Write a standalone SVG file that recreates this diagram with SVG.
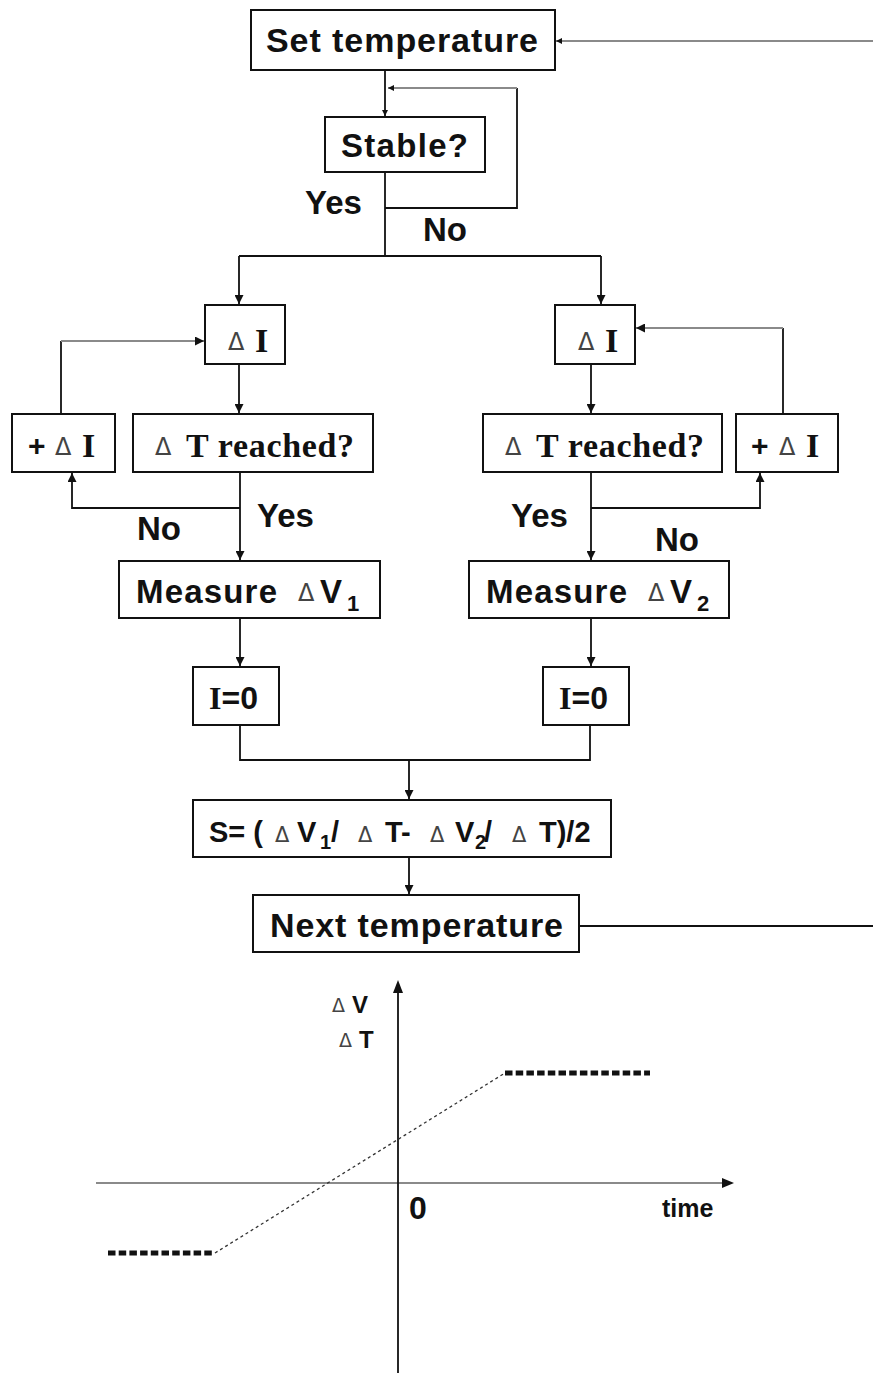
<svg xmlns="http://www.w3.org/2000/svg" width="873" height="1373" viewBox="0 0 873 1373">
<defs>
<style>
.box{fill:#fff;stroke:#111;stroke-width:2}
.c{fill:none;stroke:#111;stroke-width:1.8}
.g{fill:none;stroke:#8a8a8a;stroke-width:2.2}
.a{font-family:"Liberation Sans",Arial,sans-serif;font-weight:bold;fill:#111}
.t{font-family:"Liberation Serif","Times New Roman",serif;font-weight:bold;fill:#111}
.d{font-family:"DejaVu Sans","Liberation Sans",sans-serif;font-weight:normal;fill:#444}
.dot{fill:none;stroke:#111;stroke-width:5}
</style>
<marker id="ah" viewBox="0 0 10 10" refX="10" refY="5" markerWidth="6" markerHeight="6" markerUnits="userSpaceOnUse" orient="auto"><path d="M0,0 L10,5 L0,10 z" fill="#111"/></marker>
<marker id="ahb" viewBox="0 0 10 10" refX="10" refY="5" markerWidth="9" markerHeight="9" markerUnits="userSpaceOnUse" orient="auto"><path d="M0,0 L10,5 L0,10 z" fill="#111"/></marker>
</defs>
<rect width="873" height="1373" fill="#fff"/>

<g id="connectors">
<path class="g" d="M873,41 H556" marker-end="url(#ah)"/>
<path class="c" d="M385,70 V116" marker-end="url(#ah)"/>
<path class="c" d="M385,172 V256"/>
<path class="c" d="M385,208 H517 V88"/>
<path class="g" d="M517,88 H388" marker-end="url(#ah)"/>
<path class="c" d="M239,256 H601"/>
<path class="c" d="M239,256 V304" marker-end="url(#ahb)"/>
<path class="c" d="M601,256 V304" marker-end="url(#ahb)"/>
<path class="c" d="M239,364 V413" marker-end="url(#ahb)"/>
<path class="c" d="M61,414 V341"/>
<path class="g" d="M61,341 H204" marker-end="url(#ahb)"/>
<path class="c" d="M240,472 V560" marker-end="url(#ahb)"/>
<path class="c" d="M240,508 H72 V473" marker-end="url(#ahb)"/>
<path class="c" d="M591,364 V413" marker-end="url(#ahb)"/>
<path class="c" d="M783,414 V328"/>
<path class="g" d="M783,328 H636" marker-end="url(#ahb)"/>
<path class="c" d="M591,472 V560" marker-end="url(#ahb)"/>
<path class="c" d="M591,508 H760 V473" marker-end="url(#ahb)"/>
<path class="c" d="M240,618 V666" marker-end="url(#ahb)"/>
<path class="c" d="M591,618 V666" marker-end="url(#ahb)"/>
<path class="c" d="M240,725 V760 H590 V725"/>
<path class="c" d="M409,760 V799" marker-end="url(#ahb)"/>
<path class="c" d="M409,857 V894" marker-end="url(#ahb)"/>
<path class="c" d="M579,926 H873"/>
</g>

<g id="n-set"><rect class="box" x="251" y="10" width="304" height="60"/><text class="a" x="266" y="52" font-size="34" textLength="272" lengthAdjust="spacing">Set temperature</text></g>
<g id="n-stable"><rect class="box" x="325" y="117" width="160" height="55"/><text class="a" x="341" y="157" font-size="33" textLength="127" lengthAdjust="spacing">Stable?</text></g>
<g id="lbl-top"><text class="a" x="305" y="214" font-size="33">Yes</text><text class="a" x="423" y="241" font-size="33">No</text></g>

<g id="n-di1"><rect class="box" x="205" y="305" width="80" height="59"/><text class="d" x="228" y="350" font-size="24">Δ</text><text class="t" x="255" y="352" font-size="34">I</text></g>
<g id="n-di2"><rect class="box" x="555" y="305" width="80" height="59"/><text class="d" x="578" y="350" font-size="24">Δ</text><text class="t" x="605" y="352" font-size="34">I</text></g>

<g id="n-pdi1"><rect class="box" x="12" y="414" width="103" height="58"/><text class="a" x="28" y="456" font-size="30">+</text><text class="d" x="55" y="455" font-size="24">Δ</text><text class="t" x="82" y="457" font-size="34">I</text></g>
<g id="n-dt1"><rect class="box" x="133" y="414" width="240" height="58"/><text class="d" x="155" y="455" font-size="24">Δ</text><text class="t" x="186" y="457" font-size="34" textLength="168" lengthAdjust="spacing">T reached?</text></g>
<g id="n-dt2"><rect class="box" x="483" y="414" width="239" height="58"/><text class="d" x="505" y="455" font-size="24">Δ</text><text class="t" x="536" y="457" font-size="34" textLength="168" lengthAdjust="spacing">T reached?</text></g>
<g id="n-pdi2"><rect class="box" x="736" y="414" width="102" height="58"/><text class="a" x="751" y="456" font-size="30">+</text><text class="d" x="779" y="455" font-size="24">Δ</text><text class="t" x="806" y="457" font-size="34">I</text></g>

<g id="lbl-mid"><text class="a" x="257" y="527" font-size="33">Yes</text><text class="a" x="137" y="540" font-size="33">No</text><text class="a" x="511" y="527" font-size="33">Yes</text><text class="a" x="655" y="551" font-size="33">No</text></g>

<g id="n-m1"><rect class="box" x="119" y="561" width="261" height="57"/><text class="a" x="136" y="603" font-size="33" textLength="141" lengthAdjust="spacing">Measure</text><text class="d" x="298" y="601" font-size="24">Δ</text><text class="a" x="320" y="603" font-size="33">V</text><text class="a" x="347" y="611" font-size="22">1</text></g>
<g id="n-m2"><rect class="box" x="469" y="561" width="260" height="57"/><text class="a" x="486" y="603" font-size="33" textLength="141" lengthAdjust="spacing">Measure</text><text class="d" x="648" y="601" font-size="24">Δ</text><text class="a" x="670" y="603" font-size="33">V</text><text class="a" x="697" y="611" font-size="22">2</text></g>

<g id="n-i1"><rect class="box" x="193" y="667" width="86" height="58"/><text x="209" y="709" font-size="32"><tspan class="t">I</tspan><tspan class="a">=0</tspan></text></g>
<g id="n-i2"><rect class="box" x="543" y="667" width="86" height="58"/><text x="559" y="709" font-size="32"><tspan class="t">I</tspan><tspan class="a">=0</tspan></text></g>

<g id="n-s"><rect class="box" x="193" y="800" width="418" height="57"/>
<text class="a" font-size="29" y="842"><tspan x="209">S= (</tspan><tspan class="d" x="275" font-size="21">Δ</tspan><tspan x="297">V</tspan><tspan x="320" y="849" font-size="20">1</tspan><tspan x="331" y="842">/</tspan><tspan class="d" x="358" font-size="21">Δ</tspan><tspan x="385">T-</tspan><tspan class="d" x="430" font-size="21">Δ</tspan><tspan x="455">V</tspan><tspan x="475" y="849" font-size="20">2</tspan><tspan x="484" y="842">/</tspan><tspan class="d" x="512" font-size="21">Δ</tspan><tspan x="539">T)/2</tspan></text></g>

<g id="n-next"><rect class="box" x="253" y="895" width="326" height="57"/><text class="a" x="270" y="937" font-size="34" textLength="293" lengthAdjust="spacing">Next temperature</text></g>

<g id="chart">
<path class="g" d="M96,1183 H722"/>
<path d="M734,1183 L722,1178 L722,1188 z" fill="#111"/>
<path class="c" d="M398,1373 V992"/>
<path d="M398,980 L393,993 L403,993 z" fill="#111"/>
<path class="dot" d="M108,1253 H215" stroke-dasharray="7.5,3.2"/>
<path class="dot" d="M505,1073 H650" stroke-dasharray="7.5,3.2"/>
<path d="M215,1253 L505,1073" stroke="#333" stroke-width="1.3" stroke-dasharray="3,3" fill="none"/>
<text class="d" x="332" y="1012" font-size="19">Δ</text><text class="a" x="352" y="1013" font-size="24">V</text>
<text class="d" x="339" y="1047" font-size="19">Δ</text><text class="a" x="359" y="1048" font-size="24">T</text>
<text class="a" x="409" y="1219" font-size="32">0</text>
<text class="a" x="662" y="1217" font-size="25">time</text>
</g>
</svg>
